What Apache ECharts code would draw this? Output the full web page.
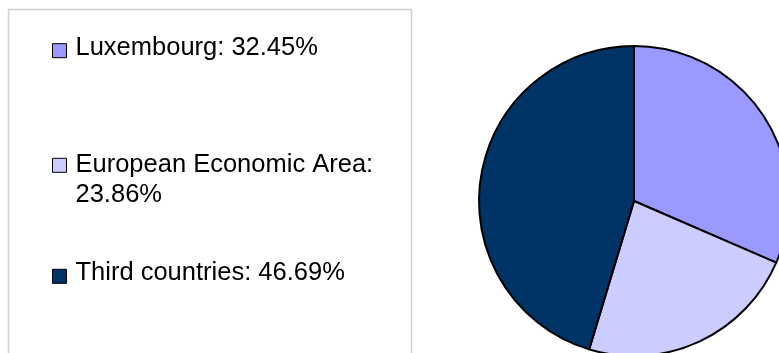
<!DOCTYPE html>
<html>
<head>
<meta charset="utf-8">
<script src="https://cdn.jsdelivr.net/npm/echarts@6/dist/echarts.min.js"></script>
<style>html,body{margin:0;padding:0;background:#fff}#c{width:779px;height:353px}</style>
</head>
<body>
<div id="c"></div>
<script>
var categories = ['Luxembourg', 'European Economic Area', 'Third countries'];
var values = [32.45, 23.86, 46.69];
var colors = ['#9999FF', '#CCCCFF', '#003366'];
var legendLabels = ['{a|Luxembourg: 32.45%}\n{s| }', '{a| }\n{a|European Economic Area:}\n{a|23.86%}', '{a|Third countries: 46.69%}\n{s| }'];

var chart = echarts.init(document.getElementById('c'), null, {renderer: 'canvas'});
var font = 'Liberation Sans, Arial, sans-serif';
var legendTops = [34.7, 122.3, 260.3];
var legends = categories.map(function (name, i) {
  return {
    data: [name],
    left: 52,
    top: legendTops[i],
    padding: 0,
    orient: 'vertical',
    icon: 'rect',
    itemWidth: 14,
    itemHeight: 14,
    selectedMode: false,
    itemStyle: {borderColor: '#000', borderWidth: 1},
    formatter: function () { return legendLabels[i]; },
    textStyle: {
      fontFamily: font,
      fontSize: 25.5,
      color: '#000',
      padding: [0, 0, 0, 4],
      rich: {
        a: {fontFamily: font, fontSize: 25.5, lineHeight: 30, color: '#000'},
        s: {fontSize: 1, lineHeight: 6}
      }
    }
  };
});

chart.setOption({
  animation: false,
  backgroundColor: '#fff',
  graphic: [{
    type: 'rect',
    shape: {x: 8.5, y: 9.5, width: 403, height: 345},
    style: {fill: 'none', stroke: '#d0d0d0', lineWidth: 1.5},
    silent: true,
    z: -1
  }],
  legend: legends,
  series: [{
    type: 'pie',
    center: [634, 201],
    radius: 155,
    startAngle: 90,
    clockwise: true,
    label: {show: false},
    labelLine: {show: false},
    emphasis: {disabled: true},
    itemStyle: {borderColor: '#000', borderWidth: 2},
    data: categories.map(function (n, i) {
      return {name: n, value: values[i], itemStyle: {color: colors[i]}};
    })
  }]
});
</script>
</body>
</html>
